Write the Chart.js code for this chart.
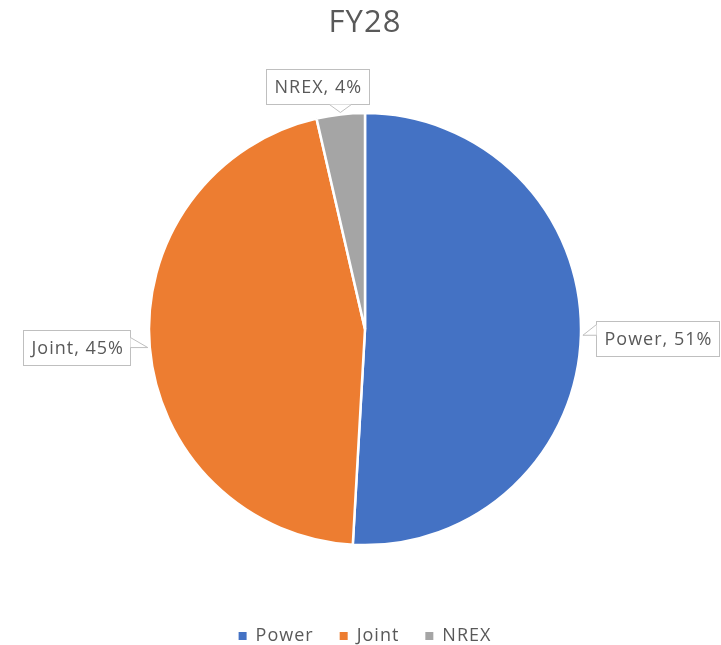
<!DOCTYPE html>
<html lang="en">
<head>
  <meta charset="UTF-8">
  <title>FY28</title>
  <script src="https://cdn.jsdelivr.net/npm/chart.js"></script>
  <style>
    html, body { margin: 0; padding: 0; background: #fff; }
    canvas { display: block; }
  </style>
</head>
<body>
  <canvas id="pieChart" width="721" height="645"></canvas>
  <script>
    // values
    const categories = ['Power', 'Joint', 'NREX'];
    const shares = [50.9, 45.5, 3.6];
    const shareLabels = ['51%', '45%', '4%'];
    const sliceColors = ['#4472C4', '#ED7D31', '#A5A5A5'];

    const textGray = '#595959';
    const fontFamily = '"Open Sans", sans-serif';

    // a bit of tracking so the text is as wide as the original
    const tracking = {
      id: 'tracking',
      beforeLayout(chart) { chart.ctx.letterSpacing = '1px'; },
      beforeDraw(chart) { chart.ctx.letterSpacing = '1px'; }
    };

    // Excel-style callout boxes next to each slice
    const callouts = {
      id: 'callouts',
      afterDatasetsDraw(chart) {
        const ctx = chart.ctx;
        const arcs = chart.getDatasetMeta(0).data;
        ctx.save();
        ctx.font = '18px ' + fontFamily;
        ctx.letterSpacing = '1px';
        ctx.textBaseline = 'middle';
        ctx.textAlign = 'left';
        arcs.forEach((arc, i) => {
          const p = arc.getProps(['x', 'y', 'startAngle', 'endAngle', 'outerRadius'], true);
          const mid = (p.startAngle + p.endAngle) / 2;
          const dx = Math.cos(mid), dy = Math.sin(mid);
          const tx = p.x + dx * (p.outerRadius + 2);
          const ty = p.y + dy * (p.outerRadius + 2);
          const text = categories[i] + ', ' + shareLabels[i];
          const w = Math.round(ctx.measureText(text).width + 15);
          const h = 35;
          let bx, by, wedge;
          if (Math.abs(dx) >= Math.abs(dy)) {
            by = Math.round(ty - h / 2 + (dx > 0 ? 3 : 0)) + 0.5;
            if (dx > 0) {
              bx = Math.round(tx + 13) + 0.5;
              wedge = [[bx, by + 3], [tx, ty], [bx, ty]];
            } else {
              bx = Math.round(tx - 18 - w) + 0.5;
              wedge = [[bx + w, ty - 10], [tx, ty], [bx + w, ty]];
            }
          } else {
            bx = Math.round(tx - w * 0.72) + 0.5;
            by = Math.round(ty - 8 - h) + 0.5;
            wedge = [[tx - 11, by + h], [tx, ty], [tx + 11, by + h]];
          }
          ctx.fillStyle = '#fff';
          ctx.strokeStyle = '#BFBFBF';
          ctx.lineWidth = 1;
          ctx.fillRect(bx, by, w, h);
          ctx.strokeRect(bx, by, w, h);
          // pointer: white fill covers the box edge, then its two sides
          ctx.beginPath();
          ctx.moveTo(wedge[0][0], wedge[0][1]);
          ctx.lineTo(wedge[1][0], wedge[1][1]);
          ctx.lineTo(wedge[2][0], wedge[2][1]);
          ctx.closePath();
          ctx.fill();
          ctx.beginPath();
          ctx.moveTo(wedge[0][0], wedge[0][1]);
          ctx.lineTo(wedge[1][0], wedge[1][1]);
          ctx.lineTo(wedge[2][0], wedge[2][1]);
          ctx.stroke();
          ctx.fillStyle = textGray;
          ctx.fillText(text, bx + 8, by + h / 2 + 1);
        });
        ctx.restore();
      }
    };

    const ctx = document.getElementById('pieChart').getContext('2d');
    const pieChart = new Chart(ctx, {
      type: 'pie',
      data: {
        labels: categories,
        datasets: [{
          data: shares,
          backgroundColor: sliceColors,
          borderColor: '#fff',
          borderWidth: 2.5,
          radius: 216
        }]
      },
      options: {
        responsive: false,
        animation: false,
        events: [],
        layout: { padding: { left: 9, right: 0, top: 0, bottom: -10 } },
        plugins: {
          title: {
            display: true,
            text: 'FY28',
            color: textGray,
            font: { family: fontFamily, size: 31, weight: 'normal' },
            padding: { top: 5, bottom: 15 }
          },
          legend: {
            position: 'bottom',
            labels: {
              color: textGray,
              font: { family: fontFamily, size: 18 },
              boxWidth: 8,
              boxHeight: 8,
              padding: 26,
              generateLabels(chart) {
                const items = Chart.overrides.pie.plugins.legend.labels.generateLabels(chart);
                items.forEach(it => { it.lineWidth = 0; it.strokeStyle = it.fillStyle; });
                return items;
              }
            }
          },
          tooltip: { enabled: false }
        }
      },
      plugins: [tracking, callouts]
    });
  </script>
</body>
</html>
